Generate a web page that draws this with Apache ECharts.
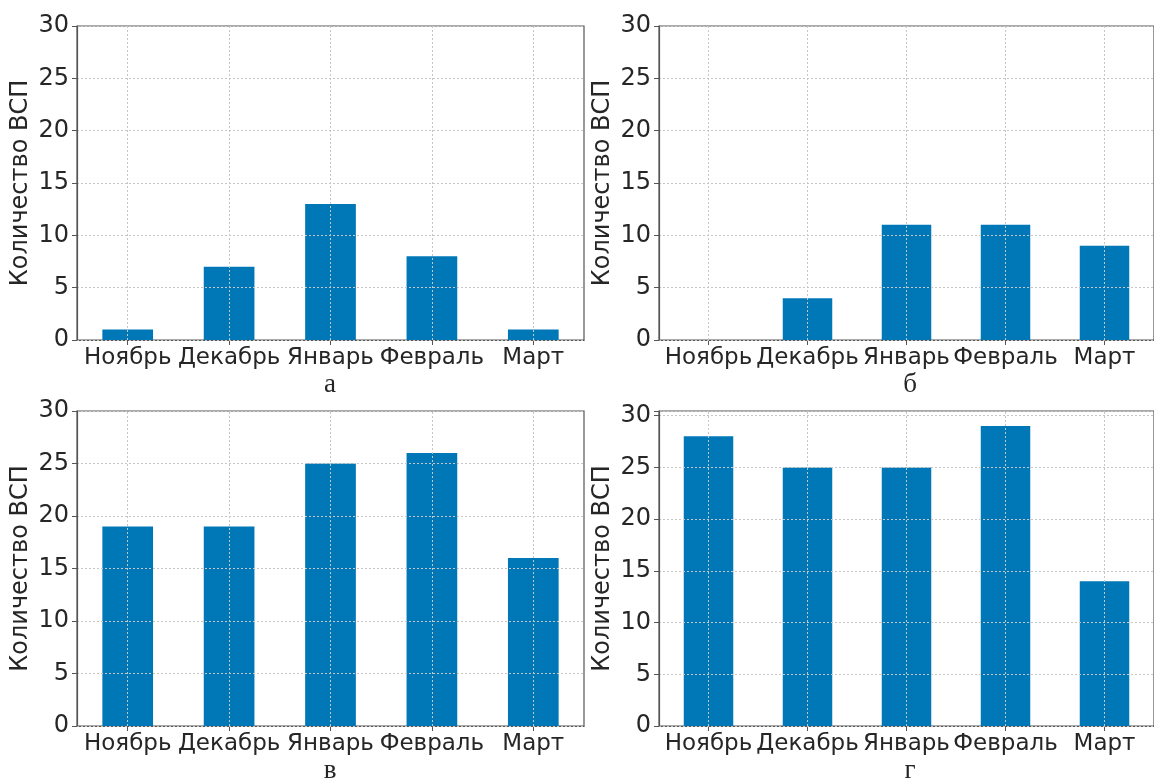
<!DOCTYPE html>
<html>
<head>
<meta charset="utf-8">
<script src="https://cdn.jsdelivr.net/npm/echarts@6/dist/echarts.min.js"></script>
<style>
html,body{margin:0;padding:0;background:#fff;}
#chart{width:1154px;height:781px;}
</style>
</head>
<body>
<div id="chart"></div>
<script>
// ---- data ----
const categories = ['Ноябрь', 'Декабрь', 'Январь', 'Февраль', 'Март'];
const valuesA = [1, 7, 13, 8, 1];
const valuesB = [0, 4, 11, 11, 9];
const valuesV = [19, 19, 25, 26, 16];
const valuesG = [28, 25, 25, 29, 14];
const panelLetters = ['а', 'б', 'в', 'г'];
const yAxisName = 'Количество ВСП';
const yMaxes = [30, 30, 30, 30.45];
const yInterval = 5;

// ---- layout ----
const panels = [
  { left: 77,  top: 26,  width: 507, height: 314, data: valuesA, lx: 330, ly: 385 },
  { left: 659, top: 26,  width: 507, height: 314, data: valuesB, lx: 910, ly: 385 },
  { left: 77,  top: 411, width: 507, height: 315, data: valuesV, lx: 330, ly: 771 },
  { left: 659, top: 411, width: 507, height: 315, data: valuesG, lx: 910, ly: 771 }
];

const textColor = '#262626';
const axisColor = '#555555';
const gridColor = '#c6c6c6';
const barColor = '#0077b6';
const font = 'DejaVu Sans';

const grid = [], xAxis = [], yAxis = [], series = [], graphic = [];
panels.forEach((p, i) => {
  grid.push({
    left: p.left, top: p.top, width: p.width, height: p.height,
    show: true, borderColor: axisColor, borderWidth: 1.2, backgroundColor: 'transparent'
  });
  xAxis.push({
    type: 'category', gridIndex: i, data: categories,
    axisLine: { show: true, lineStyle: { color: axisColor, width: 1.2 } },
    axisTick: { show: true, alignWithLabel: true, length: 5, lineStyle: { color: axisColor } },
    axisLabel: { interval: 0, color: textColor, fontFamily: font, fontSize: 23, margin: 7 },
    splitLine: { show: false }
  });
  yAxis.push({
    type: 'value', gridIndex: i, min: 0, max: yMaxes[i], interval: yInterval, z: 3,
    name: yAxisName, nameLocation: 'middle', nameRotate: 90, nameGap: 44,
    nameTextStyle: { color: textColor, fontFamily: font, fontSize: 24 },
    axisLine: { show: true, lineStyle: { color: axisColor, width: 1.2 } },
    axisTick: { show: true, length: 5, lineStyle: { color: axisColor } },
    axisLabel: {
      color: textColor, fontFamily: font, fontSize: 24, margin: 8,
      formatter: v => (v % yInterval === 0 ? String(v) : '')
    },
    splitLine: { show: true, lineStyle: { color: gridColor, type: [2, 2], width: 1 } }
  });
  series.push({
    type: 'bar', xAxisIndex: i, yAxisIndex: i, data: p.data,
    barWidth: '50%',
    itemStyle: { color: barColor, borderWidth: 0 },
    markLine: {
      silent: true, symbol: 'none', animation: false,
      label: { show: false },
      lineStyle: { color: gridColor, type: [2, 2], width: 1 },
      data: categories.map(c => ({ xAxis: c }))
    }
  });
  graphic.push({
    type: 'text', x: p.lx, y: p.ly,
    style: { text: panelLetters[i], fill: textColor, font: '27px "Liberation Serif"', align: 'center', verticalAlign: 'middle' }
  });
});

const chart = echarts.init(document.getElementById('chart'), null, { renderer: 'canvas' });
chart.setOption({
  animation: false,
  backgroundColor: '#ffffff',
  grid, xAxis, yAxis, series, graphic
});
</script>
</body>
</html>
